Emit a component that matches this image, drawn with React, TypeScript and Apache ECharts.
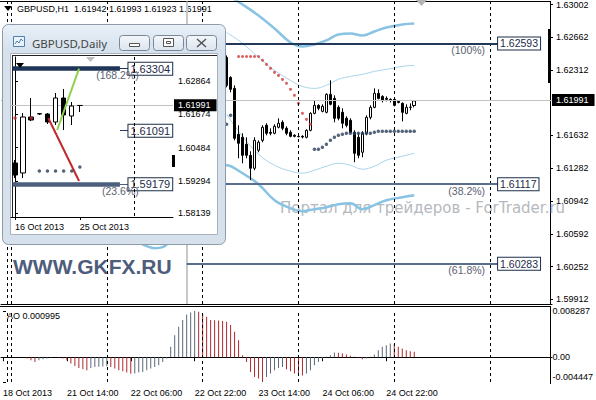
import React, { useEffect, useRef } from "react";
import * as echarts from "echarts";

const FONT = "'Liberation Sans', Arial, sans-serif";

// ---------------- H1 main chart ----------------
const H1_SLOTS = 138;
const H1_TICK_INDEX = [0, 16, 32, 48, 64, 80, 96];
const H1_TICK_LABELS = ["18 Oct 2013", "21 Oct 14:00", "22 Oct 06:00", "22 Oct 22:00", "23 Oct 14:00", "24 Oct 06:00", "24 Oct 22:00"];
const H1_DAY_SEPARATORS = [1, 2, 26, 50, 74, 98, 122];
const H1_FIBO_ANCHOR = 46;
const HEADER = "GBPUSD,H1  1.61942 1.61993 1.61923 1.61991";

const H1_CANDLE_START = 56;
// [open, close, low, high]
const H1_CANDLES = [
  [1.62447, 1.62154, 1.62133, 1.62468],
  [1.62237, 1.62112, 1.6208, 1.62248],
  [1.62122, 1.61598, 1.61577, 1.62154],
  [1.6164, 1.61546, 1.61389, 1.61735],
  [1.61609, 1.6142, 1.61336, 1.61651],
  [1.61536, 1.6142, 1.61389, 1.61609],
  [1.6142, 1.61284, 1.61159, 1.61462],
  [1.61284, 1.61577, 1.61263, 1.61609],
  [1.61473, 1.61557, 1.61452, 1.61577],
  [1.61577, 1.61714, 1.61557, 1.61735],
  [1.61735, 1.61651, 1.6163, 1.61756],
  [1.61661, 1.61651, 1.6163, 1.61703],
  [1.61651, 1.61724, 1.6164, 1.61745],
  [1.61714, 1.61756, 1.61703, 1.61808],
  [1.61766, 1.61703, 1.61682, 1.61787],
  [1.61703, 1.61651, 1.6163, 1.61724],
  [1.61661, 1.61619, 1.61609, 1.61682],
  [1.6163, 1.61619, 1.61609, 1.6164],
  [1.61619, 1.61615, 1.61609, 1.6164],
  [1.61619, 1.61612, 1.61598, 1.6163],
  [1.61609, 1.61682, 1.61598, 1.61693],
  [1.61682, 1.6186, 1.61672, 1.61871],
  [1.6186, 1.61944, 1.6185, 1.61996],
  [1.61944, 1.61913, 1.61892, 1.61955],
  [1.61881, 1.61934, 1.61871, 1.61955],
  [1.61871, 1.62059, 1.6186, 1.6207],
  [1.62059, 1.61955, 1.61944, 1.62206],
  [1.62017, 1.61808, 1.61766, 1.62049],
  [1.61923, 1.61808, 1.61787, 1.61944],
  [1.61871, 1.61756, 1.61703, 1.61913],
  [1.61808, 1.61735, 1.61714, 1.61829],
  [1.61787, 1.61661, 1.61651, 1.61808],
  [1.61661, 1.61441, 1.61347, 1.61682],
  [1.61609, 1.6142, 1.61389, 1.61651],
  [1.61452, 1.61651, 1.61399, 1.61672],
  [1.61651, 1.61818, 1.6163, 1.61839],
  [1.61818, 1.61923, 1.61797, 1.61944],
  [1.61923, 1.6207, 1.61913, 1.62122],
  [1.6207, 1.62017, 1.62007, 1.62112],
  [1.62038, 1.61996, 1.61975, 1.62049],
  [1.62017, 1.62007, 1.61986, 1.62038],
  [1.62007, 1.61996, 1.61975, 1.62017],
  [1.62007, 1.61944, 1.61934, 1.62017],
  [1.61986, 1.61975, 1.61965, 1.61996],
  [1.61965, 1.61871, 1.61776, 1.61975],
  [1.6186, 1.61923, 1.6185, 1.61955],
  [1.61923, 1.61925, 1.61892, 1.61965],
  [1.61942, 1.61991, 1.61923, 1.61993],
];

const PRICE_TICKS = [1.63002, 1.62662, 1.62312, 1.61632, 1.61282, 1.60942, 1.60592, 1.60252, 1.59912];
const PRICE_MIN = 1.5986;
const PRICE_MAX = 1.63034;
const LAST_PRICE = 1.61991;

const BAND_IDX = [56, 60, 64, 68, 72, 75, 78, 81, 84, 87, 90, 93, 96, 100, 103];
const BAND_UPPER_OUTER = [1.63107, 1.63002, 1.62887, 1.62751, 1.62604, 1.62562, 1.62583, 1.62625, 1.62688, 1.62698, 1.62677, 1.62719, 1.62761, 1.62793, 1.62803];
const BAND_UPPER_INNER = [1.62709, 1.62594, 1.62447, 1.62311, 1.62206, 1.62143, 1.62122, 1.62154, 1.62217, 1.62248, 1.62269, 1.623, 1.62321, 1.62353, 1.62363];
const BAND_LOWER_INNER = [1.6185, 1.61619, 1.61431, 1.61316, 1.61253, 1.61232, 1.61263, 1.61305, 1.61336, 1.61316, 1.61274, 1.61305, 1.61368, 1.6141, 1.61441];
const BAND_LOWER_OUTER_IDX = [34, 36, 38, 40, 42, 44, 48, 52, 56, 60, 64, 68, 72, 75, 78, 81, 84, 87, 90, 93, 96, 100, 103];
const BAND_LOWER_OUTER = [1.60509, 1.60467, 1.60446, 1.60457, 1.6053, 1.60656, 1.60897, 1.61127, 1.61316, 1.61232, 1.61117, 1.60949, 1.60865, 1.60834, 1.60855, 1.60876, 1.60907, 1.60918, 1.60855, 1.60897, 1.60949, 1.6098, 1.61001];

const SAR_DOWN_START = 59;
const SAR_DOWN = [1.62457, 1.62457, 1.62457, 1.62457, 1.62457, 1.62457, 1.62416, 1.62374, 1.62332, 1.6229, 1.62258, 1.62216, 1.62175, 1.62112, 1.62049, 1.61965, 1.6186, 1.61797, 1.61745];
const SAR_UP_EARLY_START = 56;
const SAR_UP_EARLY = [1.61745, 1.61839];
const SAR_UP_START = 78;
const SAR_UP = [1.61483, 1.61483, 1.61504, 1.61536, 1.61577, 1.61609, 1.6163, 1.6164, 1.61651, 1.61651, 1.61651, 1.61651, 1.61651, 1.61651, 1.61651, 1.61661, 1.61672, 1.61672, 1.61672, 1.61672, 1.61672, 1.61672, 1.61672, 1.61672, 1.61672, 1.61672];

const FIB_PRICES = [1.62593, 1.61117, 1.60283];
const FIB_TEXTS = ["(100%)", "(38.2%)", "(61.8%)"];
const FIB_COLORS = ["#22385a", "#5b6d8c", "#5b6d8c"];
const FIB_END = 124;
const FIB_TEXT_END = 121;

// ---------------- AO sub-window ----------------
const AO_VALUES = [
  0.00005, 0.00004, 0.00002, -0.00002, -0.00001, 0, -0.00024, -0.00054, -0.00084, -0.00054,
  -0.00036, -0.00024, -0.00012, -0.00003, -0.00012, -0.00024, -0.00054, -0.00114, -0.00156, -0.00192,
  -0.00216, -0.00234, -0.00192, -0.00174, -0.00171, -0.00168, -0.00162, -0.00174, -0.00204, -0.00234,
  -0.00252, -0.00276, -0.00298, -0.00294, -0.00276, -0.00264, -0.00234, -0.00204, -0.00174, -0.00144,
  -0.00084, -0.00024, 0.00186, 0.00396, 0.00546, 0.00666, 0.00768, 0.00804, 0.008287, 0.00815,
  0.00786, 0.00726, 0.00666, 0.00663, 0.0066, 0.00648, 0.00636, 0.00576, 0.00456, 0.00306,
  0.00036, -0.00084, -0.00264, -0.00354, -0.00384, -0.004447, -0.00354, -0.00294, -0.00234, -0.00192,
  -0.00174, -0.00216, -0.00252, -0.00294, -0.00318, -0.0033, -0.00294, -0.00234, -0.00144, -0.00084,
  -0.00024, 0.00006, 0.00036, 0.00084, 0.00078, 0.00066, 0.00048, 0.00024, 0.00006, -0.00012,
  -0.00036, -0.00024, 0.00006, 0.00048, 0.00126, 0.00186, 0.00216, 0.00246, 0.0024, 0.00186,
  0.00156, 0.00126, 0.00108, 0.000995,
];
const AO_TICKS = [0.008287, 0, -0.004447];
const AO_MIN = -0.004447;
const AO_MAX = 0.008287;
const AO_LABEL = "AO 0.000995";

// ---------------- Daily inset ----------------
const D1_SLOTS = 20;
const D1_TICK_INDEX = [0, 8];
const D1_TICK_LABELS = ["16 Oct 2013", "25 Oct 2013"];
const D1_CANDLES = [
  [1.59936, 1.59508, 1.59401, 1.60044],
  [1.5958, 1.61579, 1.59401, 1.61722],
  [1.61579, 1.61472, 1.61436, 1.62257],
  [1.61686, 1.617, 1.6165, 1.61722],
  [1.61686, 1.614, 1.61329, 1.61722],
  [1.614, 1.62257, 1.61293, 1.62436],
  [1.62257, 1.6165, 1.61115, 1.62578],
  [1.61615, 1.61971, 1.61293, 1.62114],
  [1.6199, 1.61991, 1.61757, 1.62007],
];
const D1_PRICE_TICKS = [1.62864, 1.61674, 1.60484, 1.59294, 1.58139];
const D1_MIN = 1.58009;
const D1_MAX = 1.63721;
const D1_SAR_DOWN_IDX = [0, 2];
const D1_SAR_DOWN = [1.61543, 1.61543];
const D1_SAR_UP_START = 3;
const D1_SAR_UP = [1.59651, 1.59651, 1.59651, 1.59651, 1.59651, 1.59794];
const D1_RED_LINE = [[4.1, 1.61543], [7.9, 1.59294]];
const D1_GREEN_LINE = [[5.2, 1.61115], [7.9, 1.63304]];
const D1_FIB_PRICES = [1.63304, 1.59179];
const D1_FIB_TEXTS = ["(168.2%)", "(23.6%)"];
const D1_FIB_COLORS = ["#1e3558", "#4d5f7d"];
const D1_MID_LEVEL = 1.61091;
const D1_SEPARATOR = 14.7;

// inset plot geometry
const D1_LEFT = 11;
const D1_TOP = 57;
const D1_W = 162;
const D1_H = 160;

function h1Categories() {
  const pad = (n: number) => String(n).padStart(2, "0");
  const out: string[] = [];
  for (let i = 0; i < H1_SLOTS; i++) {
    if (i < 2) out.push(`2013.10.18 ${pad(22 + i)}:00`);
    else {
      const h = i - 2;
      out.push(`2013.10.${21 + Math.floor(h / 24)} ${pad(h % 24)}:00`);
    }
  }
  return out;
}

function d1Categories() {
  const days = ["16", "17", "18", "20", "21", "22", "23", "24", "25", "27", "28", "29", "30", "31"];
  const out: string[] = [];
  for (let i = 0; i < D1_SLOTS; i++) out.push(i < days.length ? `2013.10.${days[i]}` : `2013.11.0${i - days.length + 1}`);
  return out;
}

const boxLabel = (text: string, size: number) => ({
  show: true,
  position: "end",
  distance: 0,
  formatter: text,
  color: "#1c2c48",
  backgroundColor: "#fff",
  borderColor: "#1c2c48",
  borderWidth: 1,
  padding: [1, 2, 0, 2],
  fontSize: size,
  fontFamily: FONT,
});

const pctLabel = (text: string, size: number) => ({
  show: true,
  position: "insideEndBottom",
  distance: 1,
  formatter: text,
  color: "#5a6270",
  fontSize: size,
  fontFamily: FONT,
});

const bidLabel = () => ({
  show: true,
  position: "end",
  distance: 0,
  formatter: LAST_PRICE.toFixed(5),
  color: "#fff",
  backgroundColor: "#000",
  padding: [2, 6, 1, 4],
  fontSize: 9,
  fontFamily: FONT,
});

const sepStyle = { color: "#000", width: 1, type: [3, 3] };
const hiddenLine = { color: "rgba(0,0,0,0)", width: 1, type: "solid" };

// AO pane geometry: plot 311..382, label axis grid padded by 10px on both sides
const AO_TOP = 311;
const AO_H = 71;
const AO_LABEL_PAD_PX = 10;

function buildOption() {
  const cats = h1Categories();
  const dcats = d1Categories();
  const seq = (start: number, vals: number[]) => vals.map((v, k) => [start + k, v]);
  const pairs = (idx: number[], vals: number[]) => idx.map((x, k) => [x, vals[k]]);
  const h1Tick = (i: number) => H1_TICK_INDEX.indexOf(i) >= 0;
  const d1Tick = (i: number) => D1_TICK_INDEX.indexOf(i) >= 0;
  const aoPad = (AO_LABEL_PAD_PX / AO_H) * (AO_MAX - AO_MIN);
  const d1SepX = Math.round(D1_LEFT + ((D1_SEPARATOR + 0.5) / D1_SLOTS) * D1_W) + 0.5;

  const mainMarks: any[] = [];
  H1_DAY_SEPARATORS.forEach((i) => mainMarks.push({ xAxis: i, lineStyle: sepStyle, label: { show: false } }));
  mainMarks.push({ xAxis: H1_FIBO_ANCHOR, lineStyle: { color: "#c8c8c8", width: 2, type: "solid" }, label: { show: false } });
  mainMarks.push({ yAxis: LAST_PRICE, lineStyle: { color: "#c2c2c2", width: 1, type: "solid" }, label: bidLabel() });
  FIB_PRICES.forEach((p, k) => {
    mainMarks.push([
      { coord: [H1_FIBO_ANCHOR, p], lineStyle: { color: FIB_COLORS[k], width: 2, type: "solid" }, label: boxLabel(p.toFixed(5), 10.5) },
      { coord: [FIB_END, p] },
    ]);
    mainMarks.push([
      { coord: [H1_FIBO_ANCHOR, p], lineStyle: hiddenLine, label: pctLabel(FIB_TEXTS[k], 10.5) },
      { coord: [FIB_TEXT_END, p] },
    ]);
  });

  const insetMarks: any[] = [];
  insetMarks.push({ yAxis: LAST_PRICE, lineStyle: { color: "#c2c2c2", width: 1, type: "solid" }, label: { ...bidLabel(), distance: 1 } });
  D1_FIB_PRICES.forEach((p, k) => {
    insetMarks.push([
      { coord: [-0.3, p], lineStyle: { color: D1_FIB_COLORS[k], width: 4.5, type: "solid" }, label: { show: false } },
      { coord: [12.95, p] },
    ]);
    insetMarks.push([
      { coord: [12.95, p], lineStyle: { color: D1_FIB_COLORS[k], width: 1, type: "solid" }, label: boxLabel(p.toFixed(5), 11) },
      { coord: [14.0, p] },
    ]);
    insetMarks.push([
      { coord: [0, p], lineStyle: hiddenLine, label: pctLabel(D1_FIB_TEXTS[k], 10.5) },
      { coord: [15.4, p] },
    ]);
  });
  insetMarks.push([
    { coord: [12.95, D1_MID_LEVEL], lineStyle: { color: "#2a3d5e", width: 1, type: "solid" }, label: boxLabel(D1_MID_LEVEL.toFixed(5), 11) },
    { coord: [14.0, D1_MID_LEVEL] },
  ]);

  const candleStyle = { color: "#fff", color0: "#000", borderColor: "#000", borderColor0: "#000", borderWidth: 1 };
  const axisText = { color: "#000", fontSize: 9, fontFamily: FONT };

  const btnFill = new echarts.graphic.LinearGradient(0, 0, 0, 1, [
    { offset: 0, color: "#f3f7fb" },
    { offset: 1, color: "#dbe4ee" },
  ]);
  const titleFill = new echarts.graphic.LinearGradient(0, 0, 0, 1, [
    { offset: 0, color: "#e8eff7" },
    { offset: 1, color: "#d5e1ed" },
  ]);

  const txt = (x: number, y: number, text: string, extra: any = {}) => ({
    type: "text",
    z: extra.z ?? 5,
    style: {
      x, y, text,
      fill: extra.fill ?? "#000",
      fontSize: extra.fontSize ?? 9,
      fontFamily: extra.fontFamily ?? FONT,
      fontWeight: extra.fontWeight ?? "normal",
      textAlign: "left", align: "left",
      textVerticalAlign: "middle", verticalAlign: "middle",
    },
  });

  const graphic: any[] = [
    txt(280, 208, "Портал для трейдеров - ForTrader.ru", { fill: "#b5b9be", fontSize: 15, fontFamily: "'DejaVu Sans', sans-serif", z: 1 }),
    txt(13, 266, "WWW.GKFX.RU", { fill: "#4e5d7b", fontSize: 21, fontWeight: "bold", z: 1 }),
    { type: "line", z: 5, shape: { x1: 0, y1: 1.5, x2: 551, y2: 1.5 }, style: { stroke: "#000", lineWidth: 1 } },
    { type: "line", z: 5, shape: { x1: 0, y1: 306.5, x2: 551, y2: 306.5 }, style: { stroke: "#000", lineWidth: 1 } },
    { type: "line", z: 5, shape: { x1: 550.5, y1: 306, x2: 550.5, y2: 384 }, style: { stroke: "#000", lineWidth: 1 } },
    { type: "polygon", z: 5, shape: { points: [[4, 6], [12, 6], [8, 11]] }, style: { fill: "#000" } },
    txt(17, 9, HEADER),
    { type: "polygon", z: 5, shape: { points: [[416, 0], [427, 0], [421.5, 6]] }, style: { fill: "#b4b4b4" } },
    { type: "rect", z: 5, shape: { x: 548, y: 29, width: 3, height: 54 }, style: { fill: "#000" } },
    txt(7, 316, AO_LABEL),
    // inset window frame
    { type: "rect", z: 50, shape: { x: 2.5, y: 24.5, width: 223, height: 220, r: 6 }, style: { fill: "#d6e1ec", stroke: "#8d9aa8", lineWidth: 1 } },
    { type: "rect", z: 50, shape: { x: 3, y: 25, width: 222, height: 27, r: [6, 6, 0, 0] }, style: { fill: titleFill } },
    { type: "rect", z: 51, shape: { x: 10.5, y: 53.5, width: 207, height: 181 }, style: { fill: "#fff", stroke: "#a7b3c0", lineWidth: 1 } },
    { type: "line", z: 52, shape: { x1: 12.5, y1: 55, x2: 12.5, y2: 217 }, style: { stroke: "#222", lineWidth: 1 } },
    { type: "line", z: 52, shape: { x1: 12, y1: 55.5, x2: 217, y2: 55.5 }, style: { stroke: "#222", lineWidth: 1 } },
    // monthly period separator of the daily inset
    { type: "line", z: 66, shape: { x1: d1SepX, y1: D1_TOP, x2: d1SepX, y2: D1_TOP + D1_H }, style: { stroke: "#000", lineWidth: 1, lineDash: [3, 3] } },
    { type: "rect", z: 53, shape: { x: 13.5, y: 36.5, width: 11, height: 10 }, style: { fill: "#eaf2fa", stroke: "#4f7fb4", lineWidth: 1 } },
    { type: "polyline", z: 53, shape: { points: [[15, 44], [17, 41], [19, 43], [21, 39], [23, 41]] }, style: { stroke: "#4f7fb4", fill: null, lineWidth: 1 } },
    txt(32, 43, "GBPUSD,Daily", { fill: "#444", fontSize: 11.5, fontFamily: "'Noto Sans', sans-serif", z: 53 }),
    { type: "rect", z: 53, shape: { x: 119.5, y: 35.5, width: 30, height: 15, r: 3 }, style: { fill: btnFill, stroke: "#7b8795", lineWidth: 1 } },
    { type: "rect", z: 53, shape: { x: 153.5, y: 35.5, width: 30, height: 15, r: 3 }, style: { fill: btnFill, stroke: "#7b8795", lineWidth: 1 } },
    { type: "rect", z: 53, shape: { x: 186.5, y: 35.5, width: 30, height: 15, r: 3 }, style: { fill: btnFill, stroke: "#7b8795", lineWidth: 1 } },
    { type: "rect", z: 54, shape: { x: 129.5, y: 43.5, width: 10, height: 3 }, style: { fill: "#fff", stroke: "#555", lineWidth: 1 } },
    { type: "rect", z: 54, shape: { x: 163.5, y: 38.5, width: 10, height: 8 }, style: { fill: "#fff", stroke: "#555", lineWidth: 1 } },
    { type: "rect", z: 54, shape: { x: 166.5, y: 41.5, width: 4, height: 2 }, style: { fill: "#fff", stroke: "#555", lineWidth: 1 } },
    { type: "line", z: 54, shape: { x1: 197, y1: 39, x2: 206, y2: 47 }, style: { stroke: "#555", lineWidth: 1.5 } },
    { type: "line", z: 54, shape: { x1: 206, y1: 39, x2: 197, y2: 47 }, style: { stroke: "#555", lineWidth: 1.5 } },
    { type: "polygon", z: 70, shape: { points: [[16, 63], [24, 63], [20, 68]] }, style: { fill: "#000" } },
    { type: "polygon", z: 70, shape: { points: [[86, 57], [95, 57], [90.5, 62]] }, style: { fill: "#bdbdbd" } },
    { type: "rect", z: 70, shape: { x: 172, y: 155, width: 3, height: 12 }, style: { fill: "#000" } },
  ];

  return {
    animation: false,
    backgroundColor: "#fff",
    graphic,
    grid: [
      { left: 1, top: 1, width: 551, height: 303 },
      { left: 1, top: AO_TOP, width: 551, height: AO_H },
      { left: D1_LEFT, top: D1_TOP, width: D1_W, height: D1_H, z: 60 },
      { left: 1, top: AO_TOP - AO_LABEL_PAD_PX, width: 551, height: AO_H + 2 * AO_LABEL_PAD_PX },
    ],
    xAxis: [
      {
        type: "category", gridIndex: 0, data: cats, boundaryGap: true,
        axisLine: { show: true, lineStyle: { color: "#000" } },
        axisTick: { show: false }, axisLabel: { show: false }, splitLine: { show: false },
      },
      {
        type: "category", gridIndex: 1, data: cats, boundaryGap: true, offset: 2,
        axisLine: { show: true, lineStyle: { color: "#000" } },
        axisTick: { show: true, interval: (i: number) => h1Tick(i), alignWithLabel: true, length: 4, lineStyle: { color: "#000" } },
        axisLabel: {
          ...axisText, interval: (i: number) => h1Tick(i), align: "left", margin: 4,
          formatter: (_v: string, i: number) => H1_TICK_LABELS[H1_TICK_INDEX.indexOf(i)] ?? "",
        },
        splitLine: { show: false },
      },
      {
        type: "category", gridIndex: 2, data: dcats, boundaryGap: true, z: 60,
        axisLine: { show: true, lineStyle: { color: "#000" } },
        axisTick: { show: true, interval: (i: number) => d1Tick(i), alignWithLabel: true, length: 3, lineStyle: { color: "#000" } },
        axisLabel: {
          ...axisText, interval: (i: number) => d1Tick(i), align: "left", margin: 5,
          formatter: (_v: string, i: number) => D1_TICK_LABELS[D1_TICK_INDEX.indexOf(i)] ?? "",
        },
        splitLine: { show: false },
      },
      { type: "value", gridIndex: 2, min: -0.5, max: D1_SLOTS - 0.5, show: false, z: 60 },
      { type: "value", gridIndex: 3, min: 0, max: 1, show: false },
    ],
    yAxis: [
      {
        type: "value", gridIndex: 0, position: "right", offset: -2, min: PRICE_MIN, max: PRICE_MAX, scale: true,
        axisLine: { show: true, lineStyle: { color: "#000" } },
        axisTick: { show: true, customValues: PRICE_TICKS, length: 3, lineStyle: { color: "#000" } },
        axisLabel: { ...axisText, customValues: PRICE_TICKS, margin: 6, formatter: (v: number) => v.toFixed(5) },
        splitLine: { show: false },
      },
      {
        type: "value", gridIndex: 1, position: "right", min: AO_MIN, max: AO_MAX,
        axisLine: { show: false }, axisTick: { show: false }, axisLabel: { show: false }, splitLine: { show: false },
      },
      {
        type: "value", gridIndex: 2, position: "right", min: D1_MIN, max: D1_MAX, scale: true, z: 60,
        axisLine: { show: true, lineStyle: { color: "#000" } },
        axisTick: { show: true, customValues: D1_PRICE_TICKS, length: 3, lineStyle: { color: "#000" } },
        axisLabel: { ...axisText, customValues: D1_PRICE_TICKS, margin: 5, formatter: (v: number) => v.toFixed(5) },
        splitLine: { show: false },
      },
      {
        // AO tick labels (same pixel scale as the AO pane, padded so no label sits on the extent edge)
        type: "value", gridIndex: 3, position: "right", offset: -2,
        min: AO_MIN - aoPad, max: AO_MAX + aoPad,
        axisLine: { show: false },
        axisTick: { show: true, customValues: AO_TICKS, length: 3, lineStyle: { color: "#000" } },
        axisLabel: {
          ...axisText, customValues: AO_TICKS, margin: 6,
          formatter: (v: number) => (v === 0 ? "0.00" : v < 0 ? "{lo|" + v.toFixed(6) + "}" : v.toFixed(6)),
          rich: { lo: { ...axisText, padding: [0, 0, 11, 0] } },
        },
        splitLine: { show: false },
      },
    ],
    series: [
      // bands
      { type: "line", xAxisIndex: 0, yAxisIndex: 0, data: pairs(BAND_IDX, BAND_UPPER_OUTER), smooth: 0.4, symbol: "none", lineStyle: { color: "#88c3e3", width: 2.5 }, z: 2 },
      { type: "line", xAxisIndex: 0, yAxisIndex: 0, data: pairs(BAND_IDX, BAND_UPPER_INNER), smooth: 0.4, symbol: "none", lineStyle: { color: "#a8d3ea", width: 1 }, z: 2 },
      { type: "line", xAxisIndex: 0, yAxisIndex: 0, data: pairs(BAND_IDX, BAND_LOWER_INNER), smooth: 0.4, symbol: "none", lineStyle: { color: "#a8d3ea", width: 1 }, z: 2 },
      { type: "line", xAxisIndex: 0, yAxisIndex: 0, data: pairs(BAND_LOWER_OUTER_IDX, BAND_LOWER_OUTER), smooth: 0.4, symbol: "none", lineStyle: { color: "#88c3e3", width: 2.5 }, z: 2 },
      // candles
      {
        type: "candlestick", xAxisIndex: 0, yAxisIndex: 0, barWidth: 3, z: 3,
        data: H1_CANDLES.map((c, k) => [H1_CANDLE_START + k, c[0], c[1], c[2], c[3]]),
        encode: { x: 0, y: [1, 2, 3, 4] },
        itemStyle: candleStyle,
        markLine: { z: 5, symbol: ["none", "none"], silent: true, animation: false, data: mainMarks },
      },
      // SAR
      { type: "scatter", xAxisIndex: 0, yAxisIndex: 0, data: seq(SAR_DOWN_START, SAR_DOWN), symbolSize: 3, itemStyle: { color: "#d03a3a" }, z: 4 },
      { type: "scatter", xAxisIndex: 0, yAxisIndex: 0, data: seq(SAR_UP_EARLY_START, SAR_UP_EARLY), symbolSize: 3.5, itemStyle: { color: "#2c3e5c" }, z: 4 },
      { type: "scatter", xAxisIndex: 0, yAxisIndex: 0, data: seq(SAR_UP_START, SAR_UP), symbolSize: 3.5, itemStyle: { color: "#2c3e5c" }, z: 4 },
      // AO
      {
        type: "bar", xAxisIndex: 1, yAxisIndex: 1, data: AO_VALUES, barWidth: 1, z: 3,
        itemStyle: {
          color: (p: any) => (p.dataIndex > 0 && AO_VALUES[p.dataIndex] < AO_VALUES[p.dataIndex - 1] ? "#b0282c" : "#5a6878"),
        },
        markLine: {
          z: 5, symbol: ["none", "none"], silent: true, animation: false,
          data: H1_DAY_SEPARATORS.map((i) => ({ xAxis: i, lineStyle: sepStyle, label: { show: false } })),
        },
      },
      // inset
      {
        type: "candlestick", xAxisIndex: 2, yAxisIndex: 2, barWidth: 5, z: 62,
        data: D1_CANDLES, itemStyle: candleStyle,
      },
      {
        type: "line", xAxisIndex: 3, yAxisIndex: 2, data: D1_RED_LINE, symbol: "none", z: 63,
        lineStyle: { color: "#c0282d", width: 2 },
        markLine: { z: 61, symbol: ["none", "none"], silent: true, animation: false, data: insetMarks },
      },
      { type: "line", xAxisIndex: 3, yAxisIndex: 2, data: D1_GREEN_LINE, symbol: "none", z: 63, lineStyle: { color: "#8fd14f", width: 2 } },
      { type: "scatter", xAxisIndex: 2, yAxisIndex: 2, data: pairs(D1_SAR_DOWN_IDX, D1_SAR_DOWN), symbolSize: 3.5, itemStyle: { color: "#c03030" }, z: 64 },
      { type: "scatter", xAxisIndex: 2, yAxisIndex: 2, data: seq(D1_SAR_UP_START, D1_SAR_UP), symbolSize: 3.5, itemStyle: { color: "#2a3b5a" }, z: 64 },
    ],
  };
}

export default function App() {
  const ref = useRef<HTMLDivElement>(null);
  useEffect(() => {
    if (!ref.current) return;
    const chart = echarts.init(ref.current, null, { renderer: "svg" });
    chart.setOption(buildOption() as any);
    return () => chart.dispose();
  }, []);
  return <div ref={ref} style={{ position: "fixed", left: 0, top: 0, width: 596, height: 400 }} />;
}
